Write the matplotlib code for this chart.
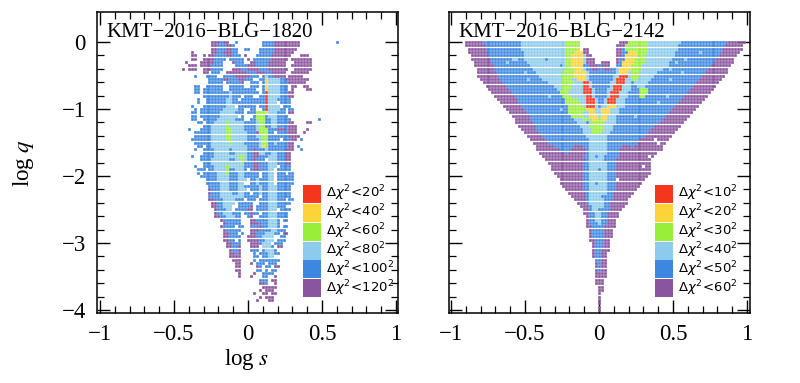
import matplotlib

matplotlib.use("Agg")
import matplotlib.pyplot as plt
from matplotlib.patches import Rectangle

plt.rcParams["font.family"] = ["Liberation Serif", "DejaVu Serif"]
plt.rcParams["mathtext.fontset"] = "dejavusans"

# Band letters, drawn outermost first
BANDS = ["p", "b", "l", "g", "y", "r"]
COLORS = {
    "r": "#f4361f",
    "y": "#fdd33a",
    "g": "#99ee3a",
    "l": "#8ccbeb",
    "b": "#3d87e0",
    "p": "#8a549e",
}

LEFT_TITLE = "KMT−2016−BLG−1820"
RIGHT_TITLE = "KMT−2016−BLG−2142"
LEFT_LEGEND = [20, 40, 60, 80, 100, 120]
RIGHT_LEGEND = [10, 20, 30, 40, 50, 60]
X_TICKS = [-1, -0.5, 0, 0.5, 1]
X_LABELS = ["−1", "−0.5", "0", "0.5", "1"]
Y_TICKS = [0, -1, -2, -3, -4]
Y_LABELS = ["0", "−1", "−2", "−3", "−4"]

# Grid steps of the scan: rows in log q, columns in log s (hundredths)
Q_STEP = 0.05

# One string per log q row. "-24p" = from log s = -0.24 on, band p; w = empty.
# The last number is the last filled column of the row.
LEFT_ROWS = [
    "-24p -18b -16p -12w -8b -6w 10b 18p 34",
    "-24p -20b -14p -10b -8w 10b 18p 34",
    "-24p -20b -14p -10b -6w -2b 2w 8b 18p 32",
    "-38p -36w -24p -20b -16p -10b -6w 8b 18p 30",
    "-38p -34w -30p -28w -26p -22b -14p -10b -4w -2p 0w 6b 16p 30w 36p 40",
    "-38p -34w -30p -22b -14w -12b -2w 0p 2w 4b 16p 28w 30p 42",
    "-42p -40w -32p -22b -16w -10p -8b -2w 2p 6b 14p 26w 32p 42",
    "-40p -34w -32p -24b -16w -8b 0p 6b 14p 26w 30p 42",
    "-44p -42w -40p -34w -30p -24b -16w -10p -4b 0p 8b 14p 28w 32p 42",
    "-30p -26w -24b -18w -14p 0b 6p 12b 16p 26w 30p 40",
    "-36b -34w -28b -20w -16b -8p 2b 8w 10b 12l 14b 18p 26w 28p 36",
    "-26b -16p -12b -6p -2b 4w 8b 12y 14l 22b 26p 40",
    "-26b -16w -14b -4p -2w 2b 8w 10b 12y 14l 22b 28p 38",
    "-36b -32w -28b -16w -12b -2w 2b 8w 10b 12y 14l 22b 28w 30p 34w 38p 40",
    "-36b -32w -30b -16w -12b 6w 10b 12y 14l 22b 28w 30p 32w 40p 42",
    "-36b -32w -30b -12l -10b 8w 10b 12r 14l 22b 28p 30",
    "-30b -12l -10b -4w -2b 4w 8b 12r 14l 22b 28p 30",
    "-34b -32w -28b -14l -10b -6w -4b 12r 14l 20b 28",
    "-34b -32w -28b -14l -10b 12r 14l 20w 22b 28",
    "-38b -36w -30b -14l -8w -6b 6w 8b 12r 14l 22w 24b 28",
    "-36b -34w -32b -16l -6b -2w 2b 6w 10b 12r 14l 22b 26w 28b 30",
    "-38b -34w -32b -18l -8b -2w 0b 6g 12y 14l 20b 26w 28p 30",
    "-38b -34w -32b -18l -6b -2w 4b 6g 12b 14l 20b 26",
    "-38b -34w -30b -20l -8b -2w 2b 6g 12b 16l 20b 28",
    "-34b -30w -28b -22l -14g -12l -2b 6l 8g 12b 16l 20b 28p 30",
    "-30b -24l -14g -12l -2b 6l 8g 12b 16l 20b 28p 32",
    "-40b -38w -32b -24l -14g -10l -2b 6l 8g 14b 20p 26b 28p 32",
    "-36b -24l -14g -10l 0b 6p 8g 14b 18w 20b 28p 32",
    "-36b -24l -14g -10l 0b 6l 10g 14b 28p 32",
    "-36b -24l -14g -10l 0b 8l 10g 14b 22w 24b 30p 32",
    "-36b -24l -12g -10l -2b 8l 10g 14b 18l 20b 28p 30",
    "-34b -30w -28b -24l 0b 8l 10y 12g 14b 28p 30",
    "-36b -34w -30b -22l -12b -10l 0b 4p 6b 12l 14b 26p 30",
    "-30b -22l -12b -8l 0b 4p 8l 12b 16l 20b 26p 28",
    "-38b -36w -32b -22l -6g -2l 0b 4p 8b 14l 20b 26p 28",
    "-32b -24l -12b -8l -4g -2l 0b 4p 6b 12w 14l 20b 26p 28",
    "-30b -24l -4g -2b 4p 8b 14l 20b 26p 28",
    "-30b -22l -14g -12l -2b 4p 8b 14l 20w 22b 28",
    "-32b -28w -26b -22l -14g -12b -8l -2b 4p 8b 14l 18w 20b 28",
    "-34b -32w -30b -20l -14g -12b -6l -2b 8w 10b 14l 18w 20b 26w 28b 30",
    "-32b -20l -12b -6l -2b 8w 10b 14l 18w 20b 30",
    "-28b -20l -12b -6l 0w 2b 6l 8b 14l 18w 20b 30",
    "-28b -18l -12b -6l -2w 2b 6l 8b 14l 18w 20b 30",
    "-26b -18l -12b -6l -2b 8l 10b 14l 20b 28",
    "-26p -24b -18l -12b -6l 0w 2b 8l 10b 14l 20b 28",
    "-26p -24b -18l -10b -6l -2b 2w 4b 8l 10b 14l 20b 28",
    "-26b -18l -2b 8w 10b 14l 20b 28",
    "-26p -22b -16l -8b -2w 0b 6w 8b 14l 20b 26w 28b 30",
    "-24p -20b -16l -8w -6b 4w 8b 14l 20b 28",
    "-24p -20b -16l -10w -6b 2p 4w 6b 14l 20b 26w 28",
    "-22p -20b -14l -10w -8b 0p 4w 6b 14l 20w 22b 28",
    "-22p -20b -16l -10b -4w -2b 2p 4b 8w 10b 14l 20b 26",
    "-22p -18b -14l -8b -4w 0b 2p 4w 8b 14l 20b 26",
    "-18p -16b -4w 2p 6b 14l 20b 22w 24b 26",
    "-16p -14b -4w 2p 8b 14l 20b 22w 26",
    "-18p -16b -8w -6b -2w 2b 8p 10b 14l 20b 22w 24b 26",
    "-16p -14b -4w 2p 8b 16l 20b 24",
    "-16p -12b -6w -4b -2w 2p 6b 12l 18b 22w 24p 26",
    "-16p -12b -4w 0p 6b 10l 18w 22b 24",
    "-16p -12b -8w -6b -4w 0p 8b 12l 18w 20b 24",
    "-14p -10b -4w 2p 8b 10l 16w 18b 22",
    "-14p -10b -6p -4w 2p 8w 10l 16b 18w 20p 22",
    "-12p -10b -6p -4w 2b 8w 10b 12l 18b 20w 22",
    "-12p -8b -6p -4w 4b 6w 8b 14l 18b 20",
    "-12p -4w 4b 8w 10b 14l 18w 20",
    "-10p -4w 4b 6w 8b 20",
    "-8p -4w 2p 4w 6b 12w 14b 18",
    "-8p -4w 6p 8b 10w 12b 16w 18p 20",
    "-8p -4w 6b 10w 12b 14w 16b 18",
    "-6p -4w 4p 6w 10b 16",
    "-6p -4w 2p 4w 10b 14w 18p 18",
    "8b 14w 16p 18",
    "8p 12b 14w 18p 18",
    "10p 18",
    "8p 10w 12p 16",
    "4p 6w 10p 14w 16p 18",
    "8p 10w 12p 16",
    "6p 8w 14p 16",
]

RIGHT_ROWS = [
    "-90p -78b -52l -22g -12w 14p 20g 34l 56b 88p 98",
    "-90p -76b -52l -22g -12w 12p 18g 34l 54b 86p 96",
    "-88p -76b -52l -22g -14y -12w -10p -6w 12p 16b 18g 34l 54b 84p 96",
    "-88p -74b -50l -22g -16y -10p -6w 12p 16b 20y 26g 34l 52b 84p 94",
    "-86p -74b -50l -22g -18y -10l -8p -4w 12p 16b 18y 26g 32l 52b 82p 92",
    "-86p -72b -50l -22g -18y -10l -8p -2w 12p 14b 18y 24g 32l 50b 80p 90",
    "-84p -72b -48l -22g -18y -10l -8p -2w 2p 8w 12p 14b 16y 24g 32l 48b 78p 90",
    "-84p -70b -46l -22g -18y -10b -6p 0b 2p 8w 12b 16y 22g 30l 48b 76p 88",
    "-82p -70b -44l -22g -16y -10l -8b -4p 0b 4p 8b 12l 14y 22g 30l 44b 74p 86",
    "-82p -68b -42l -24g -16y -8l -6b 12l 14y 20l 22g 28l 40b 72p 86",
    "-82p -68b -40l -24g -16y -8l -6b 10l 14r 20l 22g 28l 38b 70p 84",
    "-80p -66b -38l -24g -18l -14y -8l -6b 10l 12r 18l 22g 26l 36b 68p 82",
    "-78p -64b -34l -24g -16l -10r -6l -4b 8l 12r 18l 22b 24l 34b 66p 80",
    "-76p -62b -30l -24g -18l -10r -6l -4b 8l 10r 16l 22b 26l 32b 64p 78",
    "-74p -60b -28l -24g -18l -10r -4l -2b 6l 10r 16l 22b 28g 34b 62p 76",
    "-72p -58b -26g -20l -10r -4l -2b 6l 8r 14l 20b 28g 34b 60p 74",
    "-70p -56b -24g -18l -8r -4l -2b 6l 8r 14l 20b 28g 32b 58p 72",
    "-68p -54b -22g -14l -8r -2l 0b 4l 6r 12l 18b 56p 70",
    "-66p -54b -22g -12l -8r -2l 0b 4l 6r 12l 18b 54p 68",
    "-64p -52b -20g -10l -8r -2l 0b 2l 6y 12l 18b 52p 66",
    "-62p -50b -20g -8y -2l 2y 8l 14b 50p 64",
    "-60p -48b -20g -10l -6y -2l 2y 8l 14b 48p 62",
    "-58p -46b -18g -10l -6y 0l 2y 6l 12b 46p 60",
    "-56p -46b -16l -10g -4y 0g 2y 6l 12b 44p 58",
    "-56p -44b -14l -8b -6l -4g 4l 12b 42p 56",
    "-54p -42b -12l -6g 4l 10b 38p 54",
    "-52p -42b -10l -4g 4l 10b 36p 52",
    "-50p -40b -10l -4g 2l 8b 34p 50",
    "-48p -38b -8l 6b 32p 48",
    "-46p -36b -6l 6b 28p 46",
    "-44p -34b -6l 6b 26p 44",
    "-42p -30b -16p -10b -6l 6b 16p 22b 24p 42",
    "-42p -26b -18p -8b -6l 6b 14p 42",
    "-40p -22b -20p -8b -6l 6b 14p 38",
    "-38p -10b -6l 4b 14p 36",
    "-36p -8b -6l 4b 12p 34",
    "-34p -10b -6l 6b 12p 34",
    "-32p -10b -6l 6b 12p 34",
    "-32p -10b -6l 6b 12p 34",
    "-30p -10b -6l 6b 12p 34",
    "-28p -10b -6l 6b 12p 32",
    "-26p -10b -6l 6b 12p 30",
    "-26p -10b -6l 6b 12p 28",
    "-24p -10b -6l 6b 12p 26",
    "-22p -10b -6l 6b 12p 24",
    "-20p -8b -6l 6b 10p 22",
    "-18p -8b -6l 4b 10p 20",
    "-16p -8b -6l 4b 10p 18",
    "-14p -8b -6l 4b 8p 18",
    "-12p -6b -4l 4b 8p 16",
    "-10p -6b -4l 2b 8p 14",
    "-10p -6b -2l 2b 6p 12",
    "-8p -6b -2l 2b 6p 12",
    "-8p -6b -2l 2b 6p 10",
    "-8p -6b -2l 2b 6p 10",
    "-8p -4b 4p 10",
    "-6p -4b 4p 8",
    "-6p -4b 4p 8",
    "-6p -4b 4p 8",
    "-6p -2b 4p 6",
    "-4p -2b 4p 6",
    "-4p -2b 4p 6",
    "-4p -2b 2p 6",
    "-4p -2b 2p 4",
    "-4p -2b 2p 4",
    "-2b 2p 4",
    "-2p 0b 2p 4",
    "-2p 0b 2p 4",
    "-2p 0b 2p 4",
    "-2p 4",
    "-2p 4",
    "-2p 2",
    "-2p 2",
    "0p 2",
    "0p 2",
    "0p 0",
    "0p 0",
    "0p 0",
    "0p 0",
    "0p 0",
    "0p 0",
]

# Single cells that differ from their row: (log s in hundredths, row, band)
LEFT_SPECKS = [
    (60, 0, "b"), (48, 23, "b"), (40, 24, "p"), (42, 24, "p"), (40, 26, "p"),
    (38, 27, "p"), (34, 28, "p"), (36, 29, "b"), (34, 31, "b"), (36, 32, "b"),
    (-38, 29, "b"), (-36, 37, "b"), (-34, 38, "b"), (-6, 22, "w"), (0, 38, "w"),
]
RIGHT_SPECKS = [
    (-58, 5, "l"), (-56, 5, "l"), (-62, 6, "l"), (-48, 11, "l"), (-50, 9, "l"),
    (-34, 16, "l"), (-30, 14, "b"), (-36, 5, "b"), (-26, 7, "b"), (-26, 20, "l"),
    (48, 8, "l"), (48, 11, "l"), (52, 6, "l"), (58, 5, "l"), (68, 3, "l"),
    (56, 9, "l"), (24, 22, "l"), (40, 18, "l"), (46, 16, "l"), (40, 30, "w"),
    (34, 34, "w"), (30, 37, "w"), (38, 29, "w"), (0, 38, "b"), (-2, 42, "b"),
    (2, 46, "b"), (0, 50, "b"), (-2, 54, "b"), (-2, 34, "b"), (24, 48, "w"),
    (22, 52, "w"), (-12, 48, "p"), (12, 41, "w"), (16, 54, "w"),
]


def read_cells(rows, specks):
    cells = {}
    for i, row in enumerate(rows):
        tokens = row.split()
        for tok, nxt in zip(tokens[:-1], tokens[1:]):
            start = int(tok[:-1])
            if nxt[-1].isalpha():
                stop = int(nxt[:-1])
            else:
                stop = int(nxt) + 1
            if tok[-1] == "w":
                continue
            for col in range(start, stop, 2):
                cells[(col, i)] = tok[-1]
    for col, i, band in specks:
        if band == "w":
            cells.pop((col, i), None)
        else:
            cells[(col, i)] = band
    return cells


def style_axes(ax, xlim, show_y):
    ax.set_xlim(*xlim)
    ax.set_ylim(-4.045, 0.448)
    ax.set_xticks(X_TICKS)
    ax.set_xticklabels(X_LABELS)
    ax.set_xticks([x / 10 for x in range(-10, 11)], minor=True)
    ax.set_yticks(Y_TICKS)
    ax.set_yticks([-y / 5 for y in range(0, 21)], minor=True)
    if show_y:
        ax.set_yticklabels(Y_LABELS)
    else:
        ax.set_yticklabels([])
    ax.tick_params(which="major", direction="in", top=True, right=True,
                   length=9.5, width=1.0, labelsize=16.5, pad=8)
    ax.tick_params(which="minor", direction="in", top=True, right=True,
                   length=4.8, width=0.9)
    for spine in ax.spines.values():
        spine.set_linewidth(1.1)


def draw_panel(ax, rows, specks, title, limits):
    cells = read_cells(rows, specks)
    for band in BANDS:
        xs = [c[0] / 100 for c, b in cells.items() if b == band]
        ys = [-c[1] * Q_STEP for c, b in cells.items() if b == band]
        pts = ax.scatter(xs, ys, s=3.7, marker="s", color=COLORS[band], linewidths=0, zorder=2)
        pts.set_snap(False)

    ax.text(0.031, 0.933, title, transform=ax.transAxes, fontsize=15,
            va="center", ha="left", zorder=5)

    # legend is a column of coloured boxes
    top = 0.4276
    height = 0.0625
    for k, (band, lim) in enumerate(zip(BANDS[::-1], limits)):
        y0 = top - (k + 1) * height
        ax.add_patch(Rectangle((0.683, y0), 0.06, height - 0.003, transform=ax.transAxes,
                               facecolor=COLORS[band], edgecolor="none", zorder=4))
        ax.text(0.762, y0 + height / 2, rf"$\Delta\chi^2\!<\!{lim}^2$",
                transform=ax.transAxes, fontsize=9.5, va="center", ha="left", zorder=5)


def main():
    fig = plt.figure(figsize=(8.0, 3.83), dpi=100)
    ax1 = fig.add_axes([97 / 800, 70 / 383, 301 / 800, 301 / 383])
    ax2 = fig.add_axes([449 / 800, 70 / 383, 301 / 800, 301 / 383])

    draw_panel(ax1, LEFT_ROWS, LEFT_SPECKS, LEFT_TITLE, LEFT_LEGEND)
    draw_panel(ax2, RIGHT_ROWS, RIGHT_SPECKS, RIGHT_TITLE, RIGHT_LEGEND)
    style_axes(ax1, (-1.02, 1.0135), True)
    style_axes(ax2, (-1.0135, 1.02), False)

    fig.text(247 / 800, 1 - 359 / 383, r"log $\mathit{s}$", fontsize=16.5,
             ha="center", va="center", math_fontfamily="stix")
    fig.text(23 / 800, 1 - 163 / 383, r"log $\mathit{q}$", fontsize=16.5, rotation=90,
             ha="center", va="center", math_fontfamily="stix")

    fig.savefig("out.png", dpi=100)
    plt.close(fig)


if __name__ == "__main__":
    main()
